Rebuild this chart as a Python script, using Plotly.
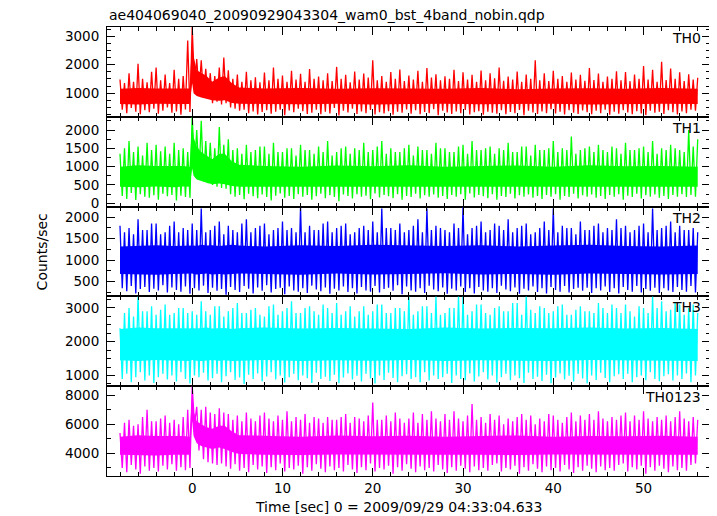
import plotly.graph_objects as go
from plotly.subplots import make_subplots

title_text = "ae404069040_20090929043304_wam0_bst_4band_nobin.qdp"
x_title = "Time [sec] 0 = 2009/09/29 04:33:04.633"
y_title = "Counts/sec"
panel_names = ["TH0", "TH1", "TH2", "TH3", "TH0123"]
colors = ["#ff0000", "#00ff00", "#0000ff", "#00ffff", "#ff00ff"]

# time grid of the light curve: -8 s .. 56 s in 0.25 s steps (257 samples)
t_start, t_step, n_samp = -8.0, 0.25, 257

# core band (dense part of the noise) at selected times
band_t = [-8, -6, -4, -2, -1, -0.3, 0.0, 0.15, 0.5, 1.0, 1.6, 2.2, 3.0, 3.6, 4.4, 5.2,
          8, 12, 16, 20, 24, 28, 32, 36, 40, 44, 48, 52, 56]

# ---- TH0 ----
th0_rate = [
    1480, 420, 1350, 300, 1700, 480, 1400, 350, 2030, 260, 1500, 400, 1380, 330, 1750, 450,
    1900, 280, 1450, 380, 1650, 500, 1350, 310, 1820, 360, 1500, 240, 1600, 430, 2850, 340,
    3320, 1200, 2200, 1000, 2150, 900, 1850, 800, 1700, 650, 1600, 700, 1900, 600, 2250, 650,
    1800, 500, 1500, 450, 1650, 380, 1400, 420, 1750, 300, 1450, 360, 1560, 250, 1380, 340,
    1720, 400, 1450, 280, 1900, 350, 1500, 420, 1620, 230, 1400, 390, 1780, 330, 1480, 450,
    1680, 370, 1400, 270, 1850, 310, 1500, 420, 1580, 260, 1450, 350, 1700, 290, 1420, 480,
    1920, 220, 1500, 380, 1640, 320, 1380, 450, 1760, 270, 1480, 360, 1690, 300, 1550, 410,
    2150, 250, 1450, 330, 1600, 290, 1400, 370, 1740, 240, 1500, 350, 1830, 310, 1420, 430,
    1620, 280, 1480, 400, 1780, 260, 1400, 340, 1880, 300, 1550, 440, 1660, 230, 1450, 380,
    1590, 320, 1500, 270, 1820, 360, 1420, 300, 1730, 410, 1480, 250, 1640, 330, 1400, 370,
    1790, 240, 1450, 350, 1700, 310, 1520, 280, 1900, 400, 1430, 260, 1580, 340, 1480, 300,
    1760, 410, 1400, 230, 1650, 380, 1500, 320, 2150, 270, 1450, 360, 1700, 300, 1420, 440,
    1780, 290, 1500, 350, 1600, 250, 1400, 400, 1720, 310, 1480, 270, 1640, 390, 1430, 330,
    1880, 260, 1460, 380, 1690, 300, 1400, 420, 1580, 240, 1500, 350, 1770, 280, 1450, 400,
    1740, 320, 1420, 260, 1650, 370, 1500, 290, 1950, 230, 1480, 380, 1820, 310, 1400, 350,
    2100, 270, 1460, 400, 1860, 330, 1500, 250, 1730, 360, 1420, 300, 1660, 420, 1480, 380,
    1540]
th0_lo = [620, 600, 630, 610, 620, 620, 1350, 1000, 900, 850, 800, 750, 730, 750, 650, 630,
          620, 610, 630, 600, 620, 630, 610, 620, 630, 600, 620, 630, 620]
th0_hi = [1150, 1180, 1160, 1170, 1180, 1160, 2800, 2300, 1800, 1700, 1600, 1400, 1550, 1600,
          1350, 1200, 1160, 1180, 1150, 1170, 1160, 1150, 1180, 1140, 1160, 1170, 1150, 1180, 1150]

# ---- TH1 ----
th1_rate = [
    1350, 200, 1500, 120, 1700, 280, 1400, 90, 1550, 250, 1300, 180, 1650, 150, 1450, 220,
    1600, 100, 1420, 260, 1550, 190, 1350, 230, 1650, 80, 1450, 210, 1500, 170, 1400, 150,
    2400, 900, 2000, 700, 2250, 600, 1700, 550, 1650, 500, 1500, 450, 2080, 420, 1600, 400,
    1750, 250, 1450, 180, 1500, 230, 1350, 110, 1600, 260, 1400, 190, 1450, 140, 1550, 240,
    1550, 170, 1350, 80, 1650, 210, 1400, 270, 1400, 150, 1500, 200, 1500, 120, 1300, 250,
    1600, 180, 1450, 230, 1450, 100, 1350, 190, 1550, 260, 1400, 140, 1700, 220, 1300, 170,
    1400, 60, 1500, 240, 1550, 200, 1350, 130, 1500, 250, 1450, 180, 1650, 210, 1400, 110,
    1450, 270, 1550, 160, 1700, 230, 1350, 190, 1500, 140, 1400, 250, 1400, 100, 1500, 200,
    1600, 170, 1300, 260, 1550, 130, 1450, 220, 1450, 180, 1350, 240, 1650, 150, 1500, 200,
    1500, 120, 1400, 230, 1400, 180, 1550, 250, 1600, 100, 1350, 270, 1700, 160, 1450, 230,
    1450, 190, 1500, 140, 1550, 250, 1350, 100, 1500, 200, 1450, 170, 1650, 260, 1400, 130,
    1400, 220, 1550, 180, 1550, 240, 1300, 150, 1600, 200, 1450, 120, 1450, 230, 1500, 180,
    1700, 250, 1400, 100, 1500, 200, 1450, 170, 1820, 260, 1350, 130, 1450, 220, 1500, 180,
    1550, 240, 1400, 150, 1600, 200, 1450, 120, 1400, 230, 1550, 180, 1500, 250, 1350, 100,
    1650, 210, 1450, 170, 1450, 260, 1500, 130, 1550, 220, 1400, 180, 1700, 240, 1350, 150,
    1500, 200, 1450, 120, 1600, 230, 1500, 180, 1450, 250, 1400, 170, 2000, 230, 1550, 180,
    1750]
th1_lo = [450, 440, 460, 440, 460, 450, 950, 750, 650, 600, 560, 520, 540, 520, 470, 450,
          450, 440, 460, 450, 440, 460, 450, 440, 460, 450, 440, 460, 450]
th1_hi = [1000, 1040, 1020, 1030, 1020, 1000, 2200, 1800, 1550, 1400, 1300, 1200, 1350, 1350,
          1150, 1050, 1020, 1000, 1030, 1010, 1040, 1000, 1020, 1030, 1000, 1040, 1010, 1020, 1000]

# ---- TH2 ----
th2_rate = [
    1800, 350, 1650, 280, 1750, 400, 1600, 230, 1950, 330, 1700, 380, 1700, 260, 1850, 340,
    1850, 300, 1600, 420, 1650, 250, 1800, 370, 1900, 310, 1650, 270, 1750, 390, 1700, 220,
    1850, 350, 1700, 300, 2200, 410, 1650, 240, 1700, 360, 1800, 290, 1900, 330, 1600, 200,
    1800, 380, 1700, 310, 1650, 260, 1850, 400, 1950, 340, 1650, 230, 1750, 370, 1800, 290,
    1850, 420, 1600, 250, 1700, 330, 1750, 360, 1900, 210, 1700, 390, 1750, 300, 1650, 270,
    2230, 350, 1650, 240, 1800, 410, 1700, 320, 1700, 280, 1850, 370, 1900, 220, 1650, 340,
    1750, 300, 1800, 390, 1850, 260, 1600, 350, 1650, 230, 1750, 380, 1800, 300, 1700, 270,
    1900, 400, 1650, 250, 2200, 330, 1750, 360, 1750, 290, 1700, 420, 1850, 210, 1650, 390,
    1700, 300, 1800, 270, 1950, 350, 1650, 240, 2200, 410, 1700, 320, 1800, 280, 1750, 370,
    1700, 220, 1650, 340, 1850, 300, 1750, 390, 2230, 260, 1600, 350, 1750, 230, 1800, 380,
    1900, 300, 1650, 270, 1700, 350, 1850, 240, 1800, 410, 1700, 320, 1950, 280, 1650, 370,
    1750, 220, 1800, 340, 1850, 300, 1600, 390, 1650, 260, 1750, 350, 1900, 230, 1700, 380,
    2200, 310, 1650, 270, 1800, 400, 1750, 250, 1750, 330, 1600, 360, 1900, 290, 1700, 360,
    1700, 240, 1800, 350, 1850, 300, 1650, 390, 1750, 260, 1700, 350, 1950, 230, 1750, 380,
    1800, 310, 1650, 270, 1700, 400, 1800, 250, 1850, 330, 1650, 290, 2200, 360, 1700, 240,
    1750, 350, 1800, 300, 1900, 260, 1650, 380, 1800, 310, 1700, 270, 1700, 400, 1750, 250,
    1650]
th2_lo = [680, 670, 660, 680, 690, 680, 690, 680, 670, 680, 690, 670, 680, 670, 680, 690,
          680, 660, 690, 670, 680, 700, 670, 680, 660, 690, 680, 670, 680]
th2_hi = [1320, 1340, 1350, 1330, 1340, 1330, 1350, 1340, 1330, 1360, 1340, 1350, 1330, 1340,
          1360, 1340, 1320, 1350, 1330, 1360, 1340, 1330, 1350, 1320, 1340, 1360, 1330, 1320, 1340]

# ---- TH3 ----
th3_rate = [
    2400, 900, 2850, 1050, 3000, 800, 2750, 950, 3350, 1100, 2900, 850, 2900, 1000, 3050, 780,
    2800, 950, 2950, 1050, 3100, 880, 2800, 1000, 2850, 820, 3000, 1100, 3000, 900, 2850, 760,
    2900, 1000, 2800, 950, 3200, 1080, 2900, 850, 2800, 920, 3050, 1050, 3050, 800, 2750, 980,
    2900, 1100, 3000, 870, 3150, 940, 2850, 750, 2850, 1020, 2950, 900, 3000, 1060, 2800, 830,
    2750, 970, 3050, 1100, 3100, 880, 2800, 1000, 2900, 790, 3000, 950, 3200, 1050, 2850, 860,
    2850, 1000, 3000, 920, 3050, 780, 2900, 1080, 2800, 900, 3100, 960, 3000, 840, 2850, 1020,
    3150, 770, 2800, 940, 2900, 1060, 3050, 880, 2750, 990, 2900, 820, 3050, 1050, 2800, 910,
    2900, 760, 3100, 1000, 3100, 870, 2850, 1080, 2850, 930, 3000, 800, 3000, 980, 2900, 1040,
    3350, 900, 2800, 950, 2900, 800, 3050, 1100, 3050, 850, 2850, 1000, 3350, 900, 2800, 950,
    2850, 1050, 3000, 780, 3000, 1000, 3350, 900, 3350, 860, 2800, 1060, 2900, 820, 3100, 970,
    3100, 1100, 2850, 880, 2800, 1000, 3000, 790, 3050, 950, 2900, 1050, 2900, 860, 3150, 1000,
    3150, 920, 2800, 780, 3350, 1080, 2950, 900, 2850, 960, 3050, 840, 3000, 1020, 2850, 770,
    2900, 940, 3050, 1060, 3100, 880, 2800, 990, 2800, 820, 2950, 1050, 3050, 910, 2900, 760,
    2900, 1000, 2850, 870, 3150, 1080, 3000, 930, 2850, 800, 3100, 980, 3000, 1040, 2850, 900,
    3100, 1050, 2900, 800, 2750, 950, 3050, 1000, 3000, 860, 2850, 1100, 3350, 900, 3000, 830,
    3200, 980, 2900, 1040, 2950, 850, 3150, 1000, 3100, 900, 2800, 1060, 3000, 800, 3100, 1000,
    2850]
th3_lo = [1450, 1430, 1460, 1440, 1450, 1430, 1460, 1450, 1440, 1430, 1450, 1460, 1440, 1450,
          1430, 1440, 1460, 1430, 1450, 1440, 1460, 1430, 1450, 1440, 1430, 1460, 1450, 1440, 1430]
th3_hi = [2380, 2420, 2400, 2410, 2400, 2390, 2420, 2400, 2390, 2410, 2420, 2390, 2400, 2410,
          2380, 2400, 2420, 2390, 2410, 2400, 2380, 2420, 2390, 2410, 2400, 2420, 2390, 2410, 2380]

# ---- TH0123 ----
th0123_rate = [
    5400, 3000, 6100, 2700, 6300, 3200, 5900, 2900, 6000, 2600, 6500, 3100, 7000, 2800, 6200, 3000,
    6200, 2750, 6400, 3150, 6600, 2900, 6100, 3250, 6300, 2800, 6000, 3050, 6500, 2850, 7000, 3000,
    8650, 6000, 7200, 4200, 7000, 3600, 7200, 3400, 6800, 3300, 6700, 3200, 7100, 3300, 6800, 3100,
    6700, 2950, 6300, 3250, 6600, 2800, 6200, 3000, 6800, 2700, 6400, 3200, 6200, 2900, 6600, 3100,
    6800, 2650, 6400, 3050, 6200, 2850, 6600, 3300, 6300, 2750, 6900, 3000, 6200, 2900, 6500, 3150,
    6300, 2600, 6700, 3050, 6100, 2800, 6500, 3250, 6400, 2950, 6100, 2700, 6500, 3100, 6300, 2850,
    6300, 3000, 6500, 2750, 6700, 3200, 6100, 2900, 6500, 2650, 6400, 3050, 6200, 2850, 6600, 3300,
    7500, 2750, 6300, 3000, 6300, 2900, 6600, 3150, 6200, 2600, 6800, 3050, 6400, 2800, 6100, 3250,
    6400, 2950, 6800, 2700, 6100, 3100, 6700, 2850, 6300, 3000, 6900, 2750, 6400, 3200, 6200, 2900,
    6700, 2650, 6300, 3050, 6900, 2800, 6400, 3150, 6200, 2950, 6600, 2700, 7400, 3100, 6300, 2850,
    6500, 3000, 6100, 2800, 6700, 3200, 6300, 3300, 6600, 2750, 6000, 3000, 6400, 2900, 6200, 3150,
    6500, 2600, 6700, 3050, 6300, 2800, 6600, 3250, 6000, 2950, 6400, 2700, 6200, 3100, 6700, 2850,
    6600, 3000, 6300, 2750, 6100, 3200, 6500, 2900, 6800, 2650, 6200, 3050, 6600, 2800, 6300, 3150,
    6700, 2950, 6300, 2700, 6900, 3100, 6400, 2850, 6200, 3000, 6500, 2800, 6300, 3200, 6600, 3300,
    6800, 2750, 6200, 3050, 6600, 2900, 6300, 3150, 6900, 2600, 6400, 3050, 6200, 2800, 6500, 3150,
    6300, 2950, 6600, 2700, 6200, 3100, 6500, 2850, 6900, 3000, 6400, 2800, 6200, 3200, 6500, 3300,
    6300]
th0123_lo = [3900, 3880, 3850, 3900, 3920, 3900, 6200, 5200, 4700, 4500, 4400, 4300, 4400, 4300,
             4100, 3950, 3900, 3880, 3920, 3900, 3890, 3910, 3900, 3880, 3920, 3900, 3890, 3910, 3900]
th0123_hi = [5150, 5250, 5200, 5230, 5200, 5150, 8200, 6900, 6200, 6000, 5800, 5700, 5900, 5900,
             5500, 5250, 5200, 5150, 5230, 5170, 5210, 5150, 5190, 5230, 5150, 5200, 5170, 5210, 5150]

rates = [th0_rate, th1_rate, th2_rate, th3_rate, th0123_rate]
band_lo = [th0_lo, th1_lo, th2_lo, th3_lo, th0123_lo]
band_hi = [th0_hi, th1_hi, th2_hi, th3_hi, th0123_hi]

y_ranges = [[170, 3320], [-90, 2360], [160, 2245], [683, 3343], [2445, 8616]]
y_dticks = [1000, 500, 500, 1000, 2000]
y_minor = [250, 250, 250, 250, 1000]
x_range = [-9.44, 57.36]

FONT = "DejaVu Sans"
time = [t_start + t_step * j for j in range(n_samp)]

fig = make_subplots(rows=5, cols=1, shared_xaxes=True, vertical_spacing=0)

for i in range(5):
    c = colors[i]
    fig.add_trace(go.Scatter(x=band_t, y=band_lo[i], mode="lines",
                             line=dict(width=0, color=c), showlegend=False,
                             hoverinfo="skip"), row=i + 1, col=1)
    fig.add_trace(go.Scatter(x=band_t, y=band_hi[i], mode="lines", fill="tonexty",
                             fillcolor=c, line=dict(width=0, color=c),
                             showlegend=False, hoverinfo="skip"), row=i + 1, col=1)
    fig.add_trace(go.Scatter(x=time, y=rates[i], mode="lines", line=dict(width=1.3, color=c),
                             showlegend=False), row=i + 1, col=1)

    fig.update_yaxes(range=y_ranges[i], dtick=y_dticks[i], tick0=0, row=i + 1, col=1,
                     ticks="inside", ticklen=8, tickwidth=1, tickcolor="black",
                     minor=dict(dtick=y_minor[i], tick0=0, ticks="inside", ticklen=4,
                                tickcolor="black", tickwidth=1),
                     showline=True, linecolor="black", linewidth=1, mirror="ticks",
                     showgrid=False, zeroline=False,
                     tickfont=dict(family=FONT, size=13.5, color="black"),
                     ticklabelstandoff=4)
    fig.update_xaxes(range=x_range, dtick=10, tick0=0, row=i + 1, col=1,
                     ticks="inside", ticklen=8, tickwidth=1, tickcolor="black",
                     minor=dict(dtick=2, tick0=0, ticks="inside", ticklen=4,
                                tickcolor="black", tickwidth=1),
                     showline=True, linecolor="black", linewidth=1, mirror="ticks",
                     showgrid=False, zeroline=False,
                     tickfont=dict(family=FONT, size=13.5, color="black"))

    yd = "y domain" if i == 0 else f"y{i + 1} domain"
    fig.add_annotation(text=panel_names[i], xref="paper", yref=yd, x=0.9884, y=1,
                       xanchor="right", yanchor="top", yshift=-1, showarrow=False,
                       font=dict(family=FONT, size=14, color="black"))

fig.add_annotation(text=title_text, xref="paper", yref="paper", x=0, y=1.027,
                   xanchor="left", yanchor="middle", showarrow=False,
                   font=dict(family=FONT, size=14, color="black"))
fig.add_annotation(text=y_title, xref="paper", yref="paper", x=-0.108, y=0.5,
                   xanchor="center", yanchor="middle", textangle=-90, showarrow=False,
                   font=dict(family=FONT, size=14, color="black"))
fig.add_annotation(text=x_title, xref="paper", yref="paper", x=0.483, y=-0.069,
                   xanchor="center", yanchor="middle", showarrow=False,
                   font=dict(family=FONT, size=14, color="black"))

# the page body has an 8 px margin, so the figure is sized/offset to compensate
fig.update_layout(width=709, height=508, margin=dict(l=99, r=7, t=19, b=40),
                  plot_bgcolor="white", paper_bgcolor="white", showlegend=False)

fig.write_html("out.html")
